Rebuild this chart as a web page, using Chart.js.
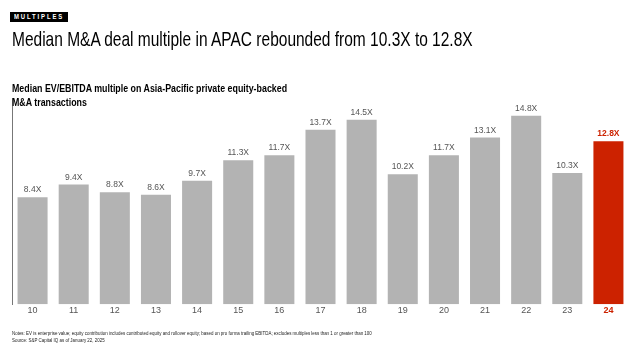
<!DOCTYPE html>
<html>
<head>
<meta charset="utf-8">
<script src="https://cdn.jsdelivr.net/npm/chart.js@4.4.1/dist/chart.umd.min.js"></script>
<style>
  html, body { margin:0; padding:0; background:#fff; }
  body { width:640px; height:345px; position:relative; overflow:hidden; font-family:"Liberation Sans", Arial, sans-serif; }
  #tag { position:absolute; left:10px; top:12px; width:58px; height:10px; background:#000; }
  #tag span { position:absolute; left:4px; top:0; color:#fff; font-weight:bold; font-size:7px; line-height:10px; letter-spacing:2.2px; white-space:nowrap; transform:scaleX(0.85); transform-origin:left center; }
  #title { position:absolute; left:12px; top:27px; font-size:21px; color:#000; white-space:nowrap; transform:scaleX(0.738); transform-origin:left top; }
  #sub { position:absolute; left:12px; top:82px; font-size:11px; font-weight:bold; line-height:13.5px; color:#000; white-space:nowrap; transform:scaleX(0.804); transform-origin:left top; }
  #notes { position:absolute; left:12px; top:330px; font-size:5.6px; line-height:6.8px; color:#222; white-space:nowrap; transform:scaleX(0.793); transform-origin:left top; }
  #wrap { position:absolute; left:0; top:0; width:640px; height:345px; }
</style>
</head>
<body>
<div id="wrap"><canvas id="c"></canvas></div>
<div id="tag"><span>MULTIPLES</span></div>
<div id="title">Median M&amp;A deal multiple in APAC rebounded from 10.3X to 12.8X</div>
<div id="sub">Median EV/EBITDA multiple on Asia-Pacific private equity-backed<br>M&amp;A transactions</div>
<div id="notes">Notes: EV is enterprise value; equity contribution includes contributed equity and rollover equity; based on pro forma trailing EBITDA; excludes multiples less than 1 or greater than 100<br>Source: S&amp;P Capital IQ as of January 22, 2025</div>
<script>
const categories = ["10","11","12","13","14","15","16","17","18","19","20","21","22","23","24"];
const multiples = [8.4, 9.4, 8.8, 8.6, 9.7, 11.3, 11.7, 13.7, 14.5, 10.2, 11.7, 13.1, 14.8, 10.3, 12.8];
const valueLabels = ["8.4X","9.4X","8.8X","8.6X","9.7X","11.3X","11.7X","13.7X","14.5X","10.2X","11.7X","13.1X","14.8X","10.3X","12.8X"];

const GREY = "#b3b3b3";
const RED = "#cc2200";
const highlight = categories.length - 1;

const labelPlugin = {
  id: "valueLabels",
  afterDatasetsDraw(chart) {
    const ctx = chart.ctx;
    const meta = chart.getDatasetMeta(0);
    ctx.save();
    ctx.textAlign = "center";
    ctx.textBaseline = "bottom";
    meta.data.forEach((bar, i) => {
      const hi = i === highlight;
      ctx.font = (hi ? "bold " : "") + "8.5px 'Liberation Sans', Arial, sans-serif";
      ctx.fillStyle = hi ? RED : "#555";
      ctx.fillText(valueLabels[i], bar.x, bar.y - 3);
    });
    ctx.restore();
  }
};

new Chart(document.getElementById("c"), {
  type: "bar",
  data: {
    labels: categories,
    datasets: [{
      data: multiples,
      backgroundColor: multiples.map((v, i) => i === highlight ? RED : GREY),
      borderWidth: 0,
      barPercentage: 0.73,
      categoryPercentage: 1.0
    }]
  },
  options: {
    responsive: true,
    maintainAspectRatio: false,
    animation: false,
    layout: { padding: { left: 12, right: 11, top: 98, bottom: 28 } },
    plugins: { legend: { display: false }, tooltip: { enabled: false } },
    scales: {
      x: {
        grid: { display: false, drawTicks: false, tickLength: 0 },
        border: { display: false },
        ticks: {
          padding: 1,
          color: (c) => c.index === highlight ? RED : "#555",
          font: (c) => ({ family: "'Liberation Sans', Arial, sans-serif", size: 9, weight: c.index === highlight ? "bold" : "normal" })
        }
      },
      y: {
        min: 0, max: 16.2,
        grid: { display: false, drawTicks: false, tickLength: 0 },
        border: { display: true, color: "#777", width: 1 },
        ticks: { display: false }
      }
    }
  },
  plugins: [labelPlugin]
});
</script>
</body>
</html>
